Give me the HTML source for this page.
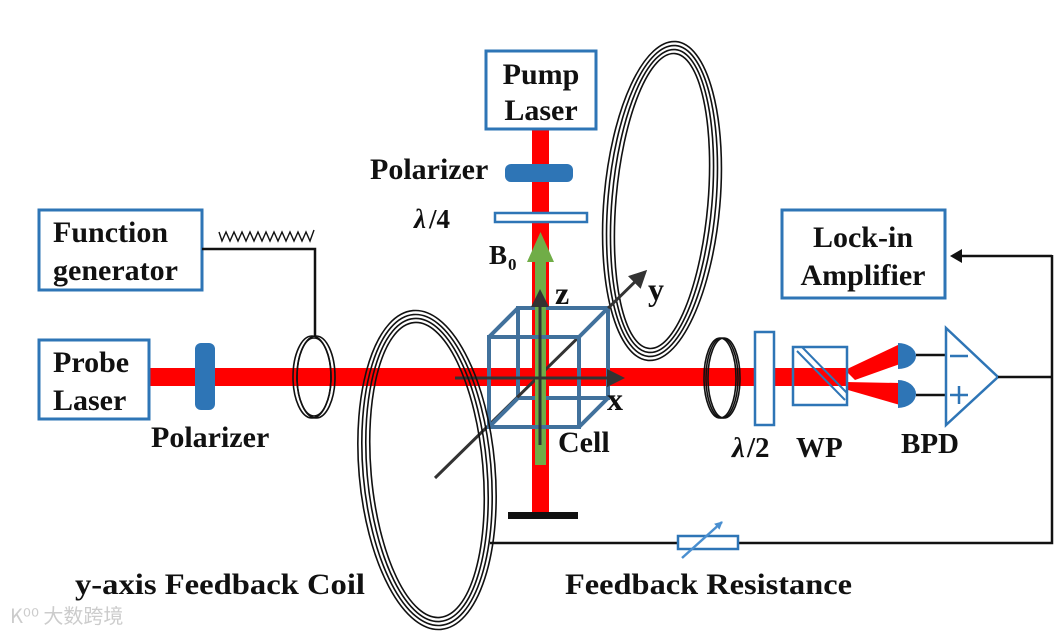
<!DOCTYPE html>
<html><head><meta charset="utf-8"><style>
html,body{margin:0;padding:0;background:#fff}
svg{display:block}
text{font-family:"Liberation Serif",serif;font-weight:bold;fill:#111}
</style></head><body>
<svg width="1059" height="634" viewBox="0 0 1059 634" xmlns="http://www.w3.org/2000/svg">
<defs>
<marker id="ah" markerWidth="6" markerHeight="6" refX="5" refY="3" orient="auto" markerUnits="strokeWidth"><path d="M0,0 L6,3 L0,6 z" fill="#333"/></marker>
<marker id="bh" markerWidth="8" markerHeight="8" refX="7" refY="4" orient="auto" markerUnits="userSpaceOnUse"><path d="M0,0 L8,4 L0,8 z" fill="#4a8fd0"/></marker>
</defs>
<!-- top right coil -->
<g transform="rotate(5 662 201)" fill="none" stroke="#111" stroke-width="1.6">
<ellipse cx="662" cy="201" rx="58" ry="160"/>
<ellipse cx="662" cy="201" rx="54" ry="156"/>
<ellipse cx="662" cy="201" rx="50" ry="152"/>
<ellipse cx="662" cy="201" rx="46" ry="148"/>
</g>
<!-- beams -->
<rect x="532" y="128" width="17" height="388" fill="#f00"/>
<rect x="148" y="368" width="700" height="18" fill="#f00"/>
<polygon points="845,370 900,344 900,364 855,380" fill="#f00"/>
<polygon points="845,382 900,383 900,405 848,390" fill="#f00"/>
<rect x="508" y="512" width="70" height="7" fill="#111"/>
<!-- pump parts -->
<rect x="486" y="51" width="110" height="78" fill="#fff" stroke="#2e75b6" stroke-width="3"/>
<text x="541" y="84" font-size="30" text-anchor="middle">Pump</text>
<text x="541" y="120" font-size="30" text-anchor="middle">Laser</text>
<rect x="505" y="164" width="68" height="18" rx="6" fill="#2e75b6"/>
<text x="370" y="179" font-size="30">Polarizer</text>
<rect x="495" y="213" width="92" height="9" fill="#fff" stroke="#2e75b6" stroke-width="2.5"/>
<text x="414" y="228" font-size="27" font-style="italic">λ</text><text x="429" y="228" font-size="27">/4</text>
<text x="489" y="264" font-size="27">B</text><text x="508" y="270" font-size="17">0</text>
<!-- cube back -->
<g fill="none" stroke="#41719c" stroke-width="4">
<rect x="518" y="308" width="90" height="90"/>
</g>
<!-- y axis -->
<line x1="435" y1="478" x2="645" y2="272" stroke="#333" stroke-width="3" marker-end="url(#ah)"/>
<!-- green B0 -->
<rect x="535" y="255" width="11" height="210" fill="#70ad47"/>
<polygon points="527,262 554,262 540.5,232" fill="#70ad47"/>
<!-- cube front -->
<g fill="none" stroke="#41719c" stroke-width="4">
<rect x="489" y="337" width="90" height="90"/>
<line x1="489" y1="337" x2="518" y2="308"/><line x1="579" y1="337" x2="608" y2="308"/>
<line x1="579" y1="427" x2="608" y2="398"/><line x1="489" y1="427" x2="518" y2="398"/>
</g>
<line x1="540" y1="445" x2="540" y2="292" stroke="#333" stroke-width="3" marker-end="url(#ah)"/>
<line x1="455" y1="378" x2="622" y2="378" stroke="#333" stroke-width="3" marker-end="url(#ah)"/>
<text x="555" y="304" font-size="32">z</text>
<text x="648" y="300" font-size="32">y</text>
<text x="607" y="410" font-size="32">x</text>
<text x="558" y="452" font-size="30">Cell</text>
<!-- left big coil -->
<g transform="rotate(-5 427 470)" fill="none" stroke="#111" stroke-width="1.6">
<ellipse cx="427" cy="470" rx="68" ry="160"/>
<ellipse cx="427" cy="470" rx="64" ry="156"/>
<ellipse cx="427" cy="470" rx="60" ry="152"/>
<ellipse cx="427" cy="470" rx="56" ry="148"/>
</g>
<!-- function gen -->
<rect x="39" y="210" width="163" height="80" fill="#fff" stroke="#2e75b6" stroke-width="3"/>
<text x="53" y="242" font-size="30">Function</text>
<text x="53" y="280" font-size="30">generator</text>
<polyline points="219,232 222,241 226,232 230,241 234,232 238,241 242,232 246,241 250,232 254,241 258,232 262,241 266,232 270,241 274,232 278,241 282,232 286,241 290,232 294,241 298,232 302,241 306,232 310,241 314,230" fill="none" stroke="#111" stroke-width="1.4"/>
<polyline points="202,249 315,249 315,337" fill="none" stroke="#111" stroke-width="2.5"/>
<g fill="none" stroke="#111" stroke-width="1.6">
<ellipse cx="312" cy="377" rx="19" ry="41"/><ellipse cx="314" cy="377" rx="17" ry="39"/><ellipse cx="316" cy="377" rx="19" ry="41"/>
</g>
<!-- probe -->
<rect x="39" y="340" width="110" height="79" fill="#fff" stroke="#2e75b6" stroke-width="3"/>
<text x="53" y="372" font-size="30">Probe</text>
<text x="53" y="410" font-size="30">Laser</text>
<rect x="195" y="343" width="20" height="67" rx="6" fill="#2e75b6"/>
<text x="151" y="447" font-size="30">Polarizer</text>
<!-- right small ring -->
<g fill="none" stroke="#111" stroke-width="1.6">
<ellipse cx="720" cy="378" rx="16" ry="40"/><ellipse cx="722" cy="378" rx="16" ry="40"/><ellipse cx="724" cy="378" rx="16" ry="40"/>
</g>
<rect x="755" y="332" width="19" height="93" fill="#fff" stroke="#2e75b6" stroke-width="2.5"/>
<rect x="793" y="347" width="54" height="58" fill="none" stroke="#2e75b6" stroke-width="2.5"/>
<line x1="797" y1="351" x2="845" y2="400" stroke="#2e75b6" stroke-width="2"/>
<line x1="802" y1="347" x2="847" y2="393" stroke="#2e75b6" stroke-width="2"/>
<text x="732" y="457" font-size="29" font-style="italic">λ</text><text x="747" y="457" font-size="29">/2</text>
<text x="796" y="457" font-size="29">WP</text>
<text x="901" y="453" font-size="29">BPD</text>
<!-- detectors -->
<path d="M898,343 a18,13 0 0 1 0,26 z" fill="#2e75b6"/>
<path d="M898,380 a18,14 0 0 1 0,28 z" fill="#2e75b6"/>
<line x1="916" y1="355" x2="946" y2="355" stroke="#111" stroke-width="2.5"/>
<line x1="916" y1="395" x2="946" y2="395" stroke="#111" stroke-width="2.5"/>
<polygon points="946,328 946,425 998,377" fill="#fff" stroke="#2e75b6" stroke-width="2.5"/>
<line x1="950" y1="356" x2="968" y2="356" stroke="#2e75b6" stroke-width="2.5"/>
<line x1="950" y1="395" x2="968" y2="395" stroke="#2e75b6" stroke-width="2.5"/>
<line x1="959" y1="386" x2="959" y2="404" stroke="#2e75b6" stroke-width="2.5"/>
<!-- feedback lines -->
<polyline points="998,377 1052,377" fill="none" stroke="#111" stroke-width="2.5"/>
<polyline points="1052,255 1052,543 490,543" fill="none" stroke="#111" stroke-width="2.5"/>
<line x1="1052" y1="256" x2="958" y2="256" stroke="#111" stroke-width="2.5"/>
<polygon points="950,256 962,249 962,263" fill="#111"/>
<rect x="782" y="210" width="163" height="88" fill="#fff" stroke="#2e75b6" stroke-width="3"/>
<text x="863" y="247" font-size="30" text-anchor="middle">Lock-in</text>
<text x="863" y="285" font-size="30" text-anchor="middle">Amplifier</text>
<rect x="678" y="536" width="60" height="13" fill="#fff" stroke="#2e75b6" stroke-width="2.5"/>
<line x1="682" y1="558" x2="722" y2="522" stroke="#4a8fd0" stroke-width="2.5" marker-end="url(#bh)"/>
<text x="75" y="594" font-size="30" textLength="290" lengthAdjust="spacingAndGlyphs">y-axis Feedback Coil</text>
<text x="565" y="594" font-size="30" textLength="287" lengthAdjust="spacingAndGlyphs">Feedback Resistance</text>
<text x="10" y="623" font-size="20" style="fill:#ccc;font-family:'Noto Sans CJK SC',sans-serif;font-weight:normal">K⁰⁰ 大数跨境</text>
</svg>
</body></html>
